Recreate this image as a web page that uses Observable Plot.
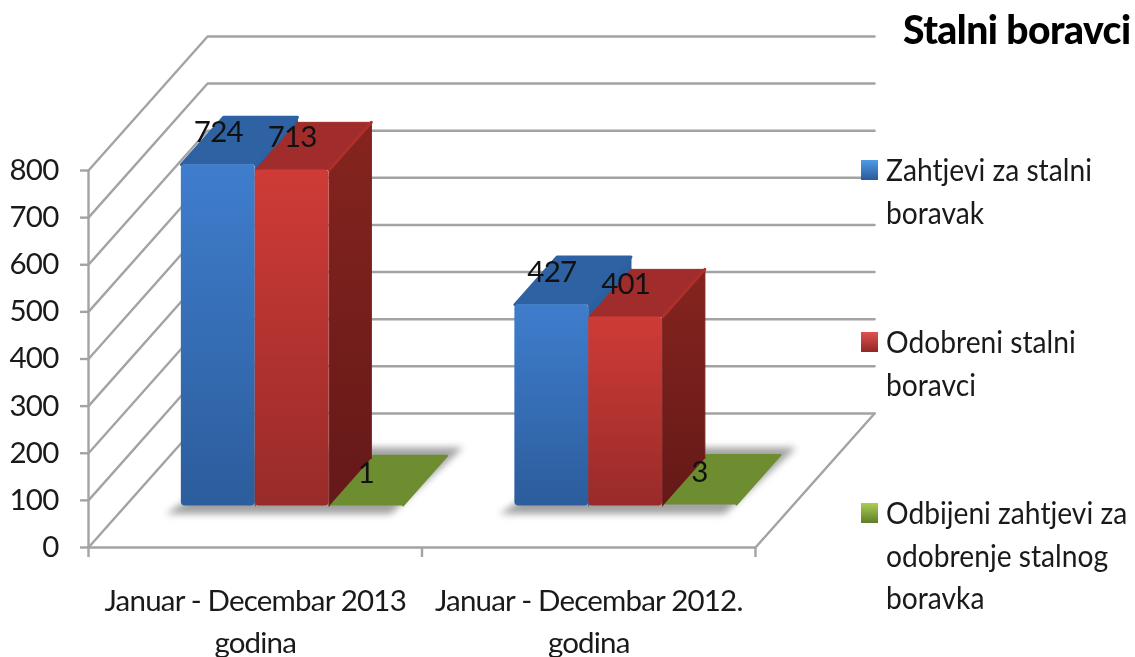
<!DOCTYPE html>
<html>
<head>
<meta charset="utf-8">
<script src="https://cdn.jsdelivr.net/npm/d3@7"></script>
<script src="https://cdn.jsdelivr.net/npm/@observablehq/plot@0.6"></script>
<style>
html,body{margin:0;padding:0;background:#fff;overflow:hidden}
#wrap{position:relative;width:1135px;height:657px;font-family:Lato,sans-serif;color:#1a1a1a;filter:blur(.55px)}
#title{position:absolute;left:903px;top:6px;font-size:39px;font-weight:900;color:#000;white-space:nowrap;letter-spacing:-.5px}
.sw{position:absolute;left:861px;width:17px;height:20px;box-sizing:border-box}
.lg{position:absolute;left:886px;font-size:30px;line-height:42.5px;white-space:pre;transform-origin:0 0;transform:scaleX(.94)}
</style>
</head>
<body>
<div id="wrap"><div id="title"></div></div>
<script>
const categories = ["Januar - Decembar 2013\ngodina", "Januar - Decembar 2012.\ngodina"];
const seriesNames = ["Zahtjevi za stalni\nboravak", "Odobreni stalni\nboravci", "Odbijeni zahtjevi za\nodobrenje stalnog\nboravka"];
const zahtjevi = [724, 427];
const odobreni = [713, 401];
const odbijeni = [1, 3];
const yTicks = [0, 100, 200, 300, 400, 500, 600, 700, 800];
const xBoundaries = [0, 1, 2];
const titleText = "Stalni boravci";

// oblique projection of the 3-D box, in data units
const wallX = 0.357, wallY = 284.5, barW = 0.2215, depthFront = 0.31, depthBack = 0.665, depthFlat = 0.68;
const px = (x, d) => x + d * wallX;
const py = (v, d) => v + d * wallY;

const bars = [];
[zahtjevi, odobreni, odbijeni].forEach((vals, s) => vals.forEach((v, c) => {
  const x1 = c + 0.5 + (s - 1.5) * barW, x2 = x1 + barW;
  bars.push({s, c, v, x1: px(x1, depthFront), x2: px(x2, depthFront), xm: px((x1 + x2) / 2, depthFront),
    b: py(0, depthFront), t: py(v, depthFront), rawX1: x1, rawX2: x2});
}));
const face = (list, fn) => list.flatMap((b, i) => fn(b).map(([x, y]) => ({id: i, x, y})));
const topFace = (b, back = depthBack) => [[px(b.rawX1, depthFront), py(b.v, depthFront)], [px(b.rawX1, back), py(b.v, back)],
  [px(b.rawX2, back), py(b.v, back)], [px(b.rawX2, depthFront), py(b.v, depthFront)]];
const flatFace = b => topFace(b, depthFlat);
const sideFace = b => [[px(b.rawX2, depthFront), py(0, depthFront)], [px(b.rawX2, depthFront), py(b.v, depthFront)],
  [px(b.rawX2, depthBack), py(b.v, depthBack)], [px(b.rawX2, depthBack), py(0, depthBack)]];
const rimEdge = b => [[px(b.rawX2, depthFront), py(b.v, depthFront)], [px(b.rawX2, depthBack), py(b.v, depthBack)]];
const ofS = s => bars.filter(b => b.s === s);

const wallLines = yTicks.flatMap(v => [
  {id: v, x: 0, y: v}, {id: v, x: wallX, y: v + wallY}, {id: v, x: 2 + wallX, y: v + wallY}
]);
const floorEdge = [{x: 2, y: 0}, {x: 2 + wallX, y: wallY}];
const shadows = categories.flatMap((_, c) => {
  const l = c + 0.5 - 1.5 * barW, r = c + 0.5 + 1.5 * barW;
  const f = depthFront - 0.06, k = depthFlat + 0.065;
  return [
    {id: c, x: px(l - 0.025, f), y: py(0, f)},
    {id: c, x: px(r - 0.015, f), y: py(0, f)},
    {id: c, x: px(r + 0.025, k), y: py(0, k)},
    {id: c, x: px(l + 0.1, k), y: py(0, k)}
  ];
});

const defs = () => {
  const g = d3.create("svg:defs");
  const grad = (id, a, b) => g.append("linearGradient").attr("id", id)
    .attr("x1", 0).attr("y1", 0).attr("x2", 0).attr("y2", 1)
    .html(`<stop offset="0" stop-color="${a}"/><stop offset="1" stop-color="${b}"/>`);
  grad("blueF", "#3f7dcd", "#2c5d9c");
  grad("redF", "#cf3b37", "#982b29");
  grad("redS", "#86241f", "#641918");
  return g.node();
};

const lineStyle = {stroke: "#a3a3a3", strokeWidth: 2.4};
const chart = Plot.plot({
  width: 1135, height: 657,
  marginLeft: 88, marginRight: 380, marginTop: 170, marginBottom: 110,
  x: {domain: [0, 2], axis: null},
  y: {domain: [0, 800], axis: null},
  style: {fontFamily: "Lato, sans-serif", background: "transparent", overflow: "visible", letterSpacing: "-0.8px"},
  marks: [
    defs,
    Plot.line(wallLines, {x: "x", y: "y", z: "id", ...lineStyle}),
    Plot.line(floorEdge, {x: "x", y: "y", ...lineStyle}),
    Plot.ruleY([0], {...lineStyle}),
    Plot.axisY({ticks: yTicks, tickSize: 8, tickPadding: 22, fontSize: 29.5, stroke: "#a3a3a3", strokeWidth: 2.4, fill: "#1a1a1a", label: null, tickFormat: d => String(d)}),
    Plot.ruleX([0], {...lineStyle}),
    Plot.axisX({ticks: xBoundaries, tickSize: 10, stroke: "#a3a3a3", strokeWidth: 2.4, tickFormat: () => "", label: null}),
    Plot.line(shadows, {x: "x", y: "y", z: "id", fill: "#a2a2a2", stroke: "none", imageFilter: "blur(3.5px)"}),
    Plot.line(face(ofS(2), flatFace), {x: "x", y: "y", z: "id", fill: "#6e8c30", stroke: "#6e8c30", strokeWidth: 2, strokeLinejoin: "round"}),
    Plot.line(face(ofS(0), sideFace), {x: "x", y: "y", z: "id", fill: "#2c5f9f", stroke: "#2c5f9f", strokeWidth: 1}),
    Plot.line(face(ofS(0), topFace), {x: "x", y: "y", z: "id", fill: "#2e62a2", stroke: "#2e62a2", strokeWidth: 3, strokeLinejoin: "round"}),
    Plot.rect(ofS(0), {x1: "x1", x2: "x2", y1: "b", y2: "t", fill: "url(#blueF)", rx: 4}),
    Plot.line(face(ofS(1), sideFace), {x: "x", y: "y", z: "id", fill: "url(#redS)", stroke: "#761e1c", strokeWidth: 1}),
    Plot.line(face(ofS(1), topFace), {x: "x", y: "y", z: "id", fill: "#a02d2b", stroke: "#a02d2b", strokeWidth: 1, strokeLinejoin: "round"}),
    Plot.line(face(ofS(1), rimEdge), {x: "x", y: "y", z: "id", stroke: "#ad302d", strokeWidth: 3}),
    Plot.rect(ofS(1), {x1: "x1", x2: "x2", y1: "b", y2: "t", fill: "url(#redF)", rx: 4}),
    Plot.text(bars, {x: "xm", y: "t", text: d => String(d.v), dy: -32, fontSize: 29.5, fill: "#111"}),
    Plot.text(categories, {x: (d, i) => i + 0.5, y: () => 0, text: d => d, dy: 71, lineAnchor: "middle", lineHeight: 1.42, fontSize: 29.5, fill: "#1a1a1a"})
  ]
});
const wrap = document.getElementById("wrap");
wrap.appendChild(chart);
document.getElementById("title").textContent = titleText;

const swatchTops = [160, 332, 503];
const swatchCols = [["#4f9be8","#2a5a99"],["#e0524e","#8f2725"],["#a9cf52","#5f7d2a"]];
const textTops = [148, 320, 491];
seriesNames.forEach((name, i) => {
  const sw = document.createElement("div");
  sw.className = "sw";
  sw.style.top = swatchTops[i] + "px";
  sw.style.background = `linear-gradient(${swatchCols[i][0]}, ${swatchCols[i][1]})`;
  wrap.appendChild(sw);
  const t = document.createElement("div");
  t.className = "lg";
  t.style.top = textTops[i] + "px";
  t.textContent = name;
  wrap.appendChild(t);
});
</script>
</body>
</html>
